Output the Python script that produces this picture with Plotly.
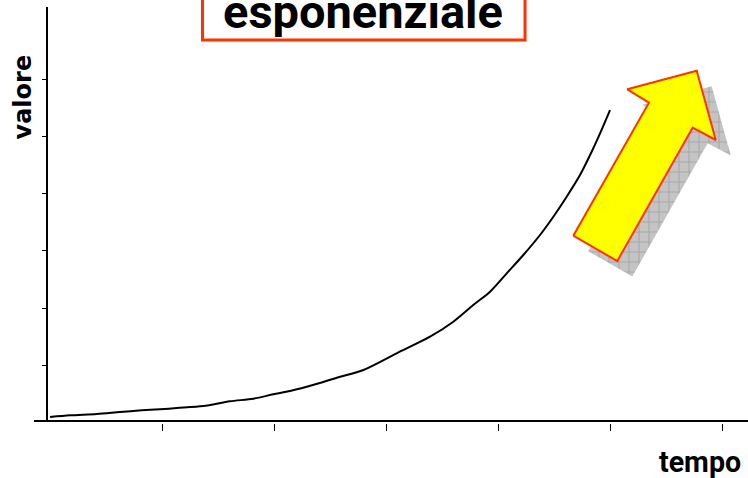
import plotly.graph_objects as go

# Exponential growth curve: time (tick units) and value (tick units)
tempo = [0.0, 0.179, 0.417, 0.625, 0.819, 0.982, 1.131, 1.369, 1.607, 1.815,
         1.994, 2.143, 2.292, 2.440, 2.574, 2.798, 3.095, 3.393, 3.601, 3.779,
         3.929, 4.078, 4.226, 4.375, 4.494, 4.613, 4.732, 4.836, 4.911, 5.000]
valore = [0.096, 0.126, 0.149, 0.184, 0.213, 0.231, 0.253, 0.288, 0.371, 0.416,
          0.493, 0.551, 0.626, 0.708, 0.790, 0.918, 1.210, 1.500, 1.762, 2.054,
          2.287, 2.608, 2.928, 3.278, 3.598, 3.948, 4.327, 4.734, 5.056, 5.463]

x_ticks = [1, 2, 3, 4, 5, 6]
y_ticks = [1, 2, 3, 4, 5, 6]

# Decorative "growth" arrow outline (in axis units) and its drop-shadow offset
arrow_t = [4.672, 5.065, 5.738, 5.944, 5.774, 5.154, 5.348, 4.672]
arrow_v = [3.266, 2.823, 5.154, 4.939, 6.150, 5.825, 5.591, 3.266]
shadow_dt, shadow_dv = 0.134, -0.271

fig = go.Figure()

# Shadow behind the arrow, hatched grey
fig.add_trace(go.Scatter(
    x=[t + shadow_dt for t in arrow_t], y=[v + shadow_dv for v in arrow_v],
    mode="lines", fill="toself", line=dict(width=0),
    fillcolor="#c4c4c4",
    fillpattern=dict(shape="+", size=10, solidity=0.2,
                     fgcolor="#8a8a8a", bgcolor="#c4c4c4"),
    hoverinfo="skip", showlegend=False,
))
# Yellow arrow with orange-red outline
fig.add_trace(go.Scatter(
    x=arrow_t, y=arrow_v, mode="lines", fill="toself",
    fillcolor="#ffff00", line=dict(color="#ff3300", width=2),
    hoverinfo="skip", showlegend=False,
))
# The exponential curve
fig.add_trace(go.Scatter(
    x=tempo, y=valore, mode="lines",
    line=dict(color="black", width=2, shape="spline", smoothing=0.8),
    hoverinfo="skip", showlegend=False,
))
# Tick-only axis sitting slightly below the main x axis line
fig.add_trace(go.Scatter(x=[None], y=[None], xaxis="x2", yaxis="y",
                         showlegend=False, hoverinfo="skip"))

bold_font = "Roboto, Liberation Sans, Arial, sans-serif"

fig.update_layout(
    width=748, height=478,
    margin=dict(l=34, r=0, t=7, b=55),
    paper_bgcolor="white", plot_bgcolor="white",
    showlegend=False,
    xaxis=dict(
        range=[-0.1429, 6.232], showgrid=False, zeroline=False,
        showline=True, linecolor="black", linewidth=1.5,
        ticks="", showticklabels=False, anchor="y",
    ),
    xaxis2=dict(
        range=[-0.1429, 6.232], overlaying="x", anchor="free", position=0,
        showgrid=False, zeroline=False, showline=False,
        tickmode="array", tickvals=x_ticks, ticks="outside", ticklen=7,
        tickwidth=1, tickcolor="black", showticklabels=False,
    ),
    yaxis=dict(
        range=[0.044, 7.264], domain=[0.0072, 1],
        anchor="free", position=0.0182,
        showgrid=False, zeroline=False,
        showline=True, linecolor="black", linewidth=1.5,
        tickmode="array", tickvals=y_ticks, ticks="outside", ticklen=4,
        tickwidth=1, tickcolor="black", showticklabels=False,
    ),
    shapes=[dict(
        type="rect", xref="paper", yref="paper",
        x0=0.236, x1=0.6877, y0=0.9208, y1=1.06,
        line=dict(color="#ff3300", width=3), fillcolor="white",
        layer="above",
    )],
    annotations=[
        dict(text="<b>esponenziale</b>", xref="paper", yref="paper",
             x=0.4608, y=0.9897, xanchor="center", yanchor="middle",
             showarrow=False,
             font=dict(family=bold_font, size=47, color="black")),
        dict(text="<b>tempo</b>", xref="paper", yref="paper",
             x=0.993, y=-0.093, xanchor="right", yanchor="middle",
             showarrow=False,
             font=dict(family=bold_font, size=28.6, color="black")),
        dict(text="<b>valore</b>", xref="paper", yref="paper",
             x=-0.0154, y=0.7825, xanchor="center", yanchor="middle",
             textangle=-90, showarrow=False,
             font=dict(family="DejaVu Sans, Verdana, sans-serif", size=24,
                       color="black")),
    ],
)

fig.write_html("out.html")
